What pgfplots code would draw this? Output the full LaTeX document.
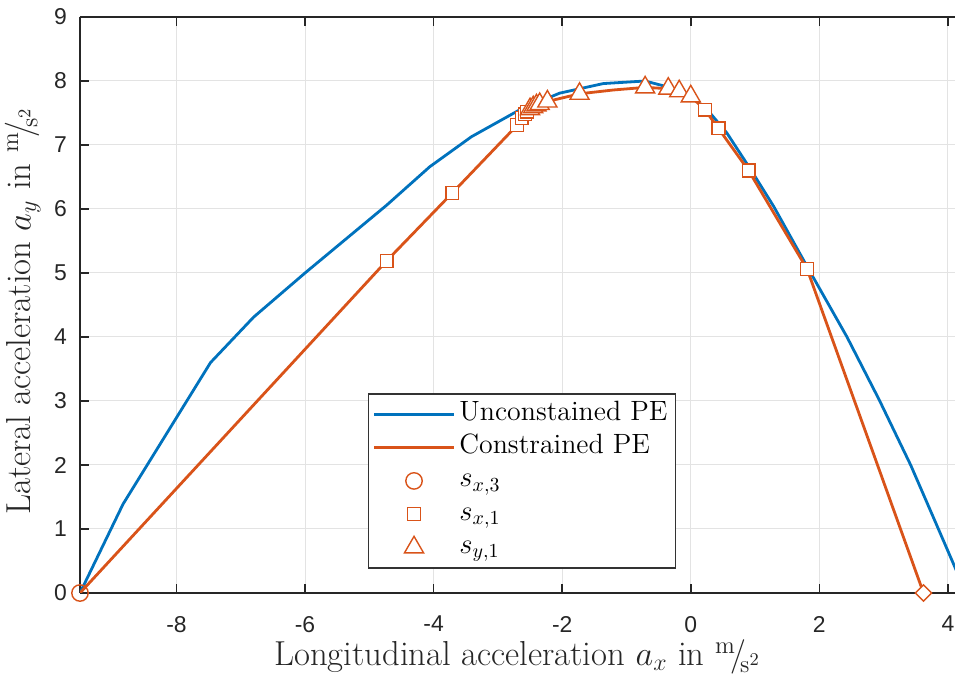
\documentclass[border=0pt]{standalone}
\usepackage{fontspec}
\setsansfont{Liberation Sans}
\usepackage{pgfplots}
\pgfplotsset{compat=1.18}
\definecolor{mblue}{rgb}{0,0.447,0.741}
\definecolor{morange}{rgb}{0.85,0.325,0.098}
\pgfplotsset{markleg/.style={legend image code/.code={\draw[mark repeat=1,mark phase=1,##1] plot coordinates {(20bp,0bp)};}},
  lineleg/.style={legend image code/.code={\draw[##1] (0bp,0bp) -- (40bp,0bp);}}}
\begin{document}
\begin{tikzpicture}
\path[use as bounding box] (-40bp,-41bp) rectangle (437.5bp,296.5bp);
\begin{axis}[
  at={(0,0)}, anchor=south west,
  scale only axis, width=437.5bp, height=288bp,
  xmin=-9.5, xmax=4.11, ymin=0, ymax=9,
  axis x line=box, axis y line*=left,
  axis line style={line width=0.7bp, black!85},
  xtick={-8,-6,-4,-2,0,2,4}, ytick={0,1,...,9},
  tick align=inside, major tick length=4.5bp,
  tick style={line width=0.8bp, black!85},
  grid=major, major grid style={line width=0.5bp, gray!22},
  /pgf/number format/assume math mode=true,
  ticklabel style={font=\sffamily\fontsize{11.5}{14}\selectfont, text=black!85},
  xticklabel style={yshift=-8bp},
  yticklabel style={xshift=-3bp},
  label style={font=\fontsize{17.4}{20}\selectfont, text=black!85},
  xlabel={Longitudinal acceleration $a_x$ in ${}^{\mathrm{m}}\!/\!{}_{\mathrm{s}^2}$},
  ylabel={Lateral acceleration $a_y$ in ${}^{\mathrm{m}}\!/\!{}_{\mathrm{s}^2}$},
  xlabel style={yshift=3bp},
  ylabel style={yshift=0bp, xshift=-3bp},
  legend style={at={(axis cs:-5.02,3.12)}, anchor=north west,
    draw=black!80, line width=0.6bp, fill=white,
    font=\fontsize{14}{17}\selectfont, row sep=0bp,
    nodes={text height=11bp, text depth=5bp, inner ysep=0.3bp, inner xsep=2bp},
    inner xsep=2bp, inner ysep=2bp},
  legend cell align=left,
]
\addplot[mblue, line width=1.4bp, lineleg] coordinates {
(-9.5,0) (-8.83,1.39) (-7.47,3.60) (-6.80,4.31) (-6.0,5.0) (-4.73,6.06)
(-4.06,6.66) (-3.41,7.13) (-2.66,7.55) (-2.04,7.81) (-1.36,7.96) (-0.71,8.0)
(-0.37,7.91) (0.04,7.73) (0.3,7.5) (0.56,7.19) (0.93,6.62) (1.29,6.04)
(1.81,5.1) (2.43,4.0) (2.93,3.02) (3.42,2.0) (3.8,1.12) (4.14,0.33) (4.28,0)
};
\addlegendentry{Unconstained PE}
\addplot[morange, line width=1.4bp, lineleg] coordinates {
(-9.5,0) (-4.73,5.19) (-3.71,6.25) (-2.70,7.31) (-2.63,7.42) (-2.58,7.48)
(-2.55,7.52) (-2.50,7.56) (-2.45,7.59) (-2.40,7.62) (-2.35,7.64) (-2.23,7.68)
(-1.73,7.80) (-1.2,7.86) (-0.71,7.90) (-0.35,7.88) (-0.18,7.84) (0.0,7.76)
(0.22,7.55) (0.43,7.26) (0.9,6.6) (1.81,5.06) (3.62,0)
};
\addlegendentry{Constrained PE}
\addplot[only marks, mark=o, mark size=4.1bp, morange, line width=0.7bp,
  mark options={fill=white}, markleg]
  coordinates {(-9.5,0)};
\addlegendentry{$s_{x,3}$}
\addplot[only marks, mark=square*, mark size=3.2bp, morange, line width=0.7bp,
  mark options={fill=white}, markleg]
  coordinates {(-4.73,5.19) (-3.71,6.25) (-2.70,7.31) (-2.63,7.42) (-2.58,7.48)
  (-2.55,7.52) (0.22,7.55) (0.43,7.26) (0.9,6.6) (1.81,5.06)};
\addlegendentry{$s_{x,1}$}
\addplot[only marks, mark=triangle*, mark size=5.5bp, morange, line width=0.7bp,
  mark options={fill=white}, markleg]
  coordinates {(-2.50,7.56) (-2.45,7.59) (-2.40,7.62) (-2.35,7.64) (-2.23,7.68)
  (-1.73,7.80) (-0.71,7.90) (-0.35,7.88) (-0.18,7.84) (0.0,7.76)};
\addlegendentry{$s_{y,1}$}
\addplot[only marks, mark=square*, mark size=2.9bp, morange, line width=0.7bp,
  mark options={fill=white, rotate=45}, forget plot]
  coordinates {(3.62,0)};
\end{axis}
\end{tikzpicture}
\end{document}
